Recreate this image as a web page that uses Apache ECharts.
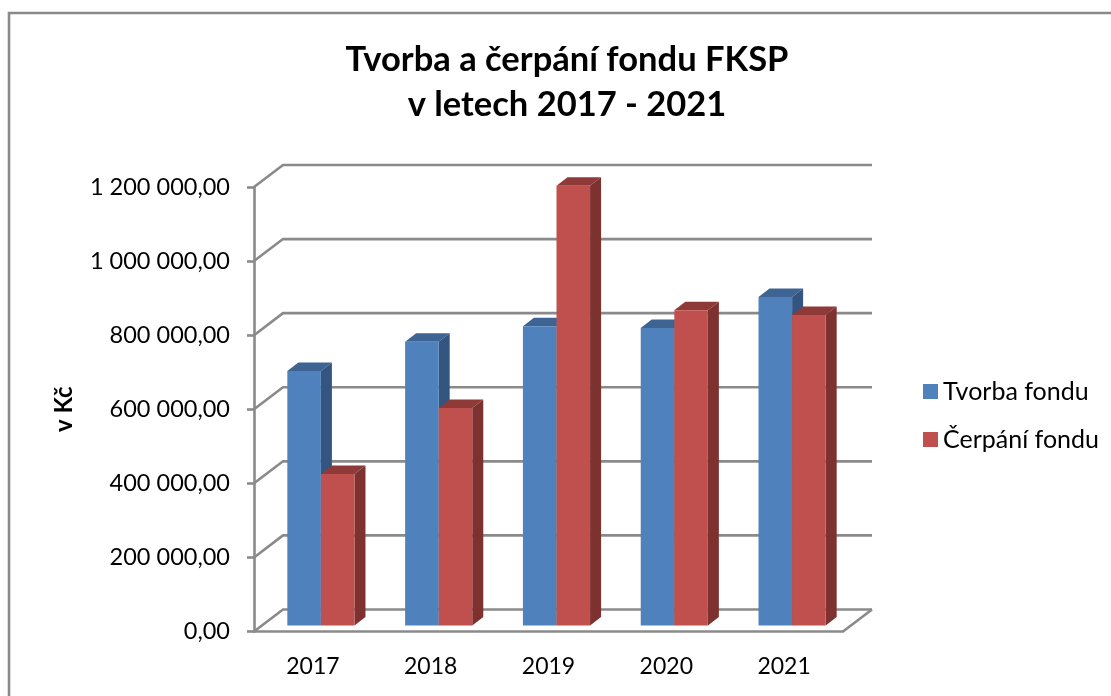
<!DOCTYPE html>
<html>
<head>
<meta charset="utf-8">
<style>
  html, body { margin: 0; padding: 0; background: #fff; }
  #chart { width: 1111px; height: 696px; }
</style>
<script src="https://cdn.jsdelivr.net/npm/echarts@6/dist/echarts.min.js"></script>
</head>
<body>
<div id="chart"></div>
<script>
const years = ["2017", "2018", "2019", "2020", "2021"];
const tvorba = [687000, 766000, 808000, 803000, 887000];
const cerpani = [409000, 587000, 1187000, 851000, 838000];
const yTicks = [0, 200000, 400000, 600000, 800000, 1000000, 1200000];

const fontName = "Lato";
const lineColor = "#8a8a8a";
const lineW = 2.6;

// pseudo 3D: how far the back wall sits from the front plane, in px
const wallDx = 29;
const wallDy = -22;
// bars stand a bit behind the front edge of the floor
const barDx = 8;
const barDy = -6;
const barDepthX = 11;
const barDepthY = -8.5;

function fmt(v) {
  return v.toFixed(2).replace(".", ",").replace(/\B(?=(\d{3})+(?!\d))/g, " ");
}

function renderWall(params, api) {
  const v = api.value(0);
  const band = api.size([1, 0])[0];
  const p = api.coord([0, v]);
  const left = p[0] - band / 2;
  const right = left + band * years.length;
  const y = p[1];
  const children = [{
    type: "polyline",
    shape: { points: [[left, y], [left + wallDx, y + wallDy], [right + wallDx, y + wallDy]] },
    style: { stroke: lineColor, lineWidth: lineW, fill: null },
  }];
  if (v === 0) {
    children.push({
      type: "line",
      shape: { x1: right, y1: y, x2: right + wallDx, y2: y + wallDy },
      style: { stroke: lineColor, lineWidth: lineW },
    });
  }
  return { type: "group", children };
}

function makeBarRender(slot, front, top, side) {
  return function (params, api) {
    const i = api.value(0);
    const band = api.size([1, 0])[0];
    const w = band * 0.285;
    const center = api.coord([i, api.value(1)]);
    const base = api.coord([i, 0]);
    const x = center[0] + barDx + (slot - 1) * w;
    const yTop = center[1] + barDy;
    const yBase = base[1] + barDy;
    return {
      type: "group",
      children: [
        {
          type: "polygon",
          shape: { points: [[x, yTop], [x + w, yTop], [x + w + barDepthX, yTop + barDepthY], [x + barDepthX, yTop + barDepthY]] },
          style: { fill: top },
        },
        {
          type: "polygon",
          shape: { points: [[x + w, yTop], [x + w + barDepthX, yTop + barDepthY], [x + w + barDepthX, yBase + barDepthY], [x + w, yBase]] },
          style: { fill: side },
        },
        {
          type: "rect",
          shape: { x: x, y: yTop, width: w, height: yBase - yTop },
          style: { fill: front },
        },
      ],
    };
  };
}

const chart = echarts.init(document.getElementById("chart"));
chart.setOption({
  animation: false,
  backgroundColor: "#fff",
  textStyle: { fontFamily: fontName },
  title: {
    text: "Tvorba a čerpání fondu FKSP\nv letech 2017 - 2021",
    left: 562,
    top: 32,
    textAlign: "center",
    textStyle: { fontFamily: fontName, fontSize: 34.5, fontWeight: "bold", color: "#000", lineHeight: 45 },
  },
  graphic: [{
    type: "polyline",
    shape: { points: [[9, 696], [9, 13], [1111, 13]] },
    style: { stroke: lineColor, lineWidth: lineW, fill: null },
  }],
  legend: {
    orient: "vertical",
    left: 918,
    top: 374,
    icon: "rect",
    itemWidth: 15,
    itemHeight: 15,
    itemGap: 23,
    data: ["Tvorba fondu", "Čerpání fondu"],
    textStyle: { fontFamily: fontName, fontSize: 25, color: "#000" },
  },
  grid: { left: 254, right: 268, top: 187, bottom: 64.5 },
  xAxis: {
    type: "category",
    data: years,
    axisLine: { lineStyle: { color: lineColor, width: lineW } },
    axisTick: { length: 7, lineStyle: { color: lineColor, width: lineW } },
    axisLabel: { color: "#000", fontSize: 23, margin: 24, fontFamily: fontName },
    splitLine: { show: false },
  },
  yAxis: {
    type: "value",
    min: 0,
    max: 1200000,
    interval: 200000,
    name: "v Kč",
    nameLocation: "middle",
    nameGap: 178,
    nameTextStyle: { color: "#000", fontSize: 24, fontWeight: "bold", fontFamily: fontName },
    axisLine: { show: true, lineStyle: { color: lineColor, width: lineW } },
    axisTick: { show: true, length: 7, lineStyle: { color: lineColor, width: lineW } },
    axisLabel: { color: "#000", fontSize: 23.5, margin: 24, padding: [4, 0, 0, 0], fontFamily: fontName, formatter: fmt },
    splitLine: { show: false },
  },
  series: [
    {
      name: "walls",
      type: "custom",
      silent: true,
      data: yTicks.map((v) => [v]),
      encode: { y: 0 },
      renderItem: renderWall,
      z: 1,
    },
    {
      name: "Tvorba fondu",
      type: "custom",
      itemStyle: { color: "#4F81BD" },
      data: tvorba.map((v, i) => [i, v]),
      encode: { x: 0, y: 1 },
      renderItem: makeBarRender(0, "#4F81BD", "#3E6494", "#34557F"),
      z: 2,
    },
    {
      name: "Čerpání fondu",
      type: "custom",
      itemStyle: { color: "#C0504D" },
      data: cerpani.map((v, i) => [i, v]),
      encode: { x: 0, y: 1 },
      renderItem: makeBarRender(1, "#C0504D", "#8E3A38", "#7D3230"),
      z: 3,
    },
  ],
});
</script>
</body>
</html>
